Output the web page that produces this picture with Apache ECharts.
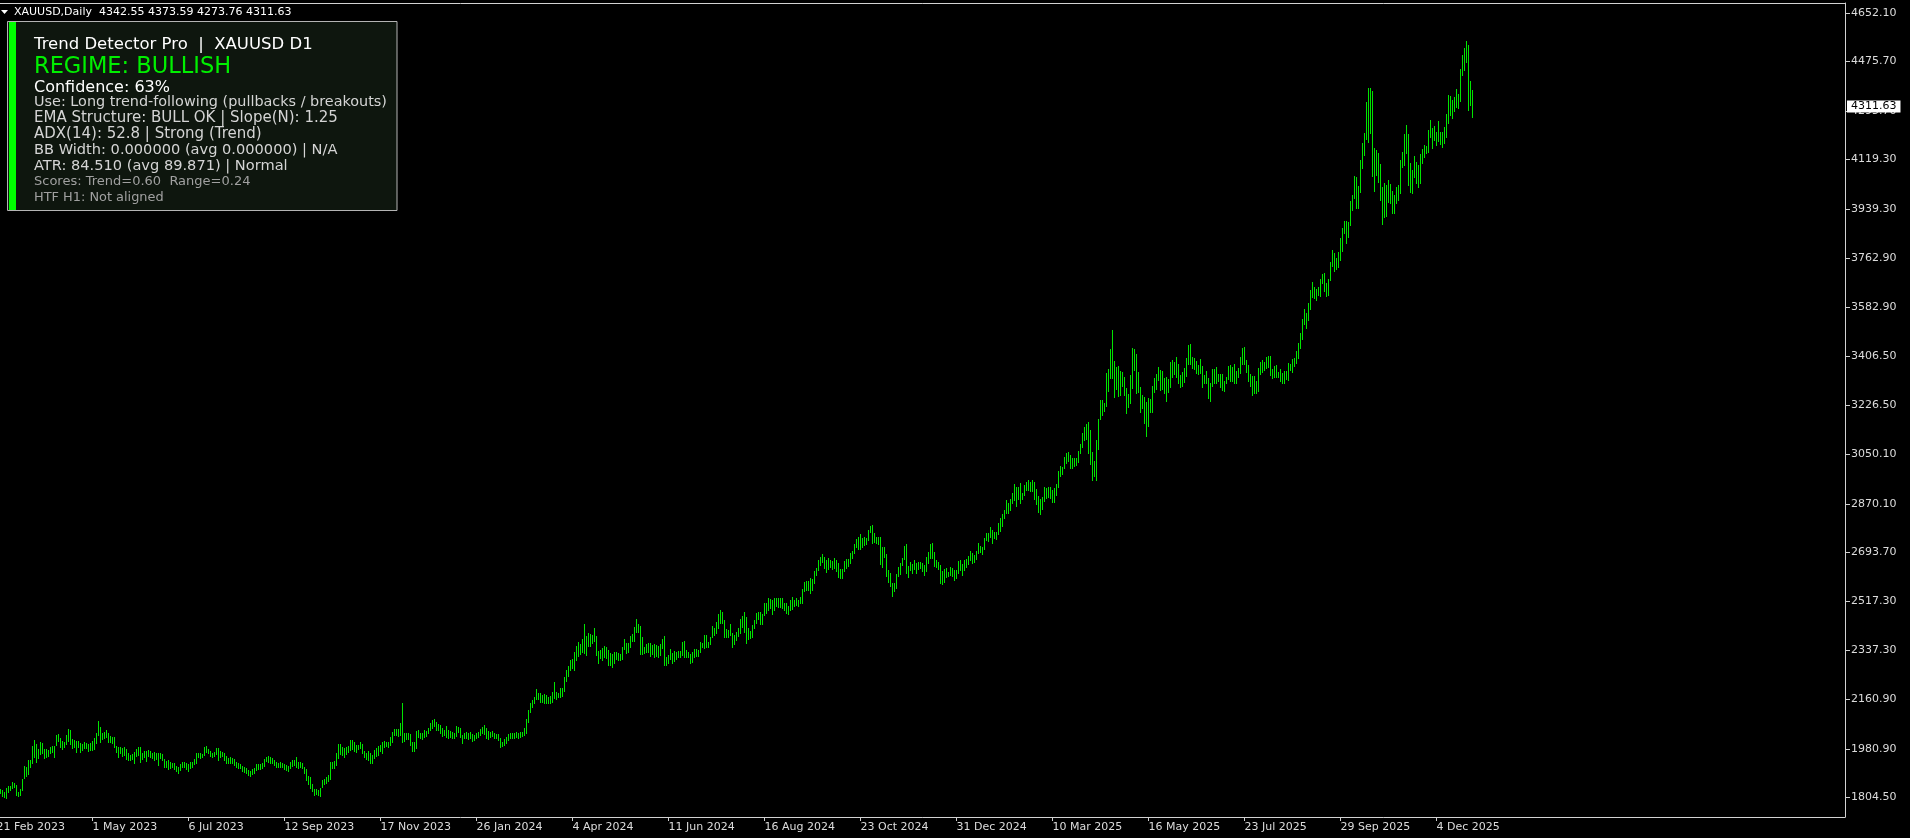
<!DOCTYPE html>
<html>
<head>
<meta charset="utf-8">
<script src="https://cdn.jsdelivr.net/npm/echarts@6/dist/echarts.min.js"></script>
<style>
html,body{margin:0;padding:0;background:#000;overflow:hidden}
#chart{width:1910px;height:838px}
</style>
</head>
<body>
<div id="chart"></div>
<script>
// ---------------- data ----------------
const symbolName = 'XAUUSD,Daily';
const lastBar = [4342.55, 4373.59, 4273.76, 4311.63]; // open high low close

// daily lows, one per bar, starting 21 Feb 2023
const lows = [
1830,1823,1819,1810,1807,1804,1825,1830,1837,1843,
1813,1809,1812,1831,1874,1884,1889,1915,1931,1952,
1934,1946,1962,1967,1946,1952,1955,1964,1970,1950,
1995,2010,1986,1982,1989,1999,2010,1998,1983,1989,
1970,1989,1970,1976,1983,1983,1974,1977,1975,1980,
2003,2031,2007,2015,2019,2022,2007,2007,2003,1986,
1970,1952,1964,1955,1958,1943,1940,1940,1943,1931,
1955,1958,1934,1943,1950,1938,1955,1952,1946,1940,
1943,1922,1946,1940,1916,1916,1906,1910,1914,1906,
1901,1894,1904,1916,1914,1907,1901,1910,1916,1926,
1931,1950,1946,1950,1958,1971,1964,1955,1952,1955,
1962,1940,1952,1955,1940,1931,1928,1931,1931,1922,
1914,1910,1910,1901,1898,1892,1886,1882,1889,1892,
1904,1906,1906,1910,1918,1938,1934,1931,1931,1922,
1916,1916,1916,1914,1906,1904,1901,1910,1918,1922,
1916,1910,1915,1910,1894,1868,1852,1838,1826,1815,
1816,1813,1810,1843,1853,1858,1864,1870,1910,1912,
1922,1946,1962,1958,1952,1962,1971,1978,1979,1974,
1971,1979,1983,1966,1952,1943,1940,1931,1931,1949,
1955,1958,1974,1966,1986,1990,1988,1995,2007,2031,
2031,2028,2031,2007,2010,2016,2015,1995,1974,1974,
1983,2025,2019,2016,2025,2027,2037,2049,2055,2064,
2049,2049,2040,2027,2031,2025,2019,2025,2019,2019,
2027,2043,2025,2003,2019,2019,2015,2019,2010,2013,
2019,2025,2031,2037,2034,2019,2016,2022,2027,2019,
2019,2013,1986,1991,1995,2001,2013,2019,2019,2019,
2025,2019,2025,2027,2031,2039,2079,2116,2134,2148,
2160,2160,2152,2152,2148,2146,2146,2148,2152,2164,
2161,2168,2170,2173,2190,2226,2244,2266,2273,2268,
2302,2318,2325,2333,2327,2321,2355,2354,2366,2373,
2321,2291,2309,2303,2315,2309,2285,2285,2279,2291,
2306,2303,2303,2306,2342,2330,2333,2352,2373,2373,
2406,2406,2325,2325,2327,2333,2333,2318,2325,2315,
2318,2315,2321,2346,2285,2285,2294,2306,2294,2301,
2306,2315,2315,2321,2315,2315,2313,2291,2297,2315,
2318,2318,2333,2352,2346,2349,2352,2361,2388,2394,
2402,2418,2439,2439,2388,2385,2388,2394,2352,2361,
2376,2390,2402,2424,2406,2364,2378,2382,2388,2418,
2439,2451,2434,2434,2467,2475,2485,2491,2470,2485,
2499,2497,2494,2491,2485,2473,2470,2485,2487,2499,
2503,2499,2511,2511,2555,2559,2557,2548,2557,2584,
2612,2630,2648,2660,2636,2624,2632,2642,2632,2636,
2627,2603,2602,2602,2626,2636,2644,2656,2672,2693,
2714,2706,2706,2714,2720,2724,2739,2769,2729,2733,
2727,2724,2652,2642,2678,2608,2587,2572,2535,2554,
2566,2608,2615,2648,2668,2618,2606,2630,2620,2632,
2620,2632,2636,2627,2612,2627,2656,2675,2675,2644,
2642,2632,2584,2579,2587,2606,2608,2612,2608,2594,
2602,2620,2630,2612,2630,2642,2652,2666,2656,2660,
2668,2690,2696,2688,2705,2739,2736,2751,2729,2745,
2741,2759,2773,2789,2817,2835,2835,2848,2872,2884,
2862,2886,2874,2886,2902,2920,2922,2918,2916,2888,
2870,2842,2832,2850,2882,2890,2893,2890,2878,2878,
2902,2930,2970,2978,2999,3019,3025,2999,3000,3008,
3012,3022,3053,3077,3100,3105,3054,3015,2956,2970,
2957,3069,3177,3192,3207,3225,3281,3328,3325,3259,
3285,3262,3265,3298,3265,3201,3220,3237,3289,3356,
3273,3277,3204,3217,3164,3116,3152,3204,3204,3277,
3285,3319,3283,3285,3273,3244,3277,3295,3331,3341,
3329,3307,3293,3298,3313,3334,3377,3377,3362,3359,
3344,3340,3344,3295,3307,3310,3253,3243,3298,3310,
3310,3317,3293,3283,3281,3310,3322,3317,3317,3307,
3307,3329,3344,3377,3377,3350,3316,3298,3265,3271,
3273,3281,3341,3350,3356,3362,3368,3337,3325,3331,
3329,3329,3317,3310,3310,3322,3319,3356,3350,3370,
3382,3400,3437,3469,3524,3509,3537,3577,3619,3617,
3610,3628,3625,3670,3642,3624,3628,3682,3734,3716,
3721,3729,3755,3789,3852,3818,3837,3882,3936,3979,
3942,3945,4003,4088,4136,4194,4184,4215,4060,4004,
4063,4039,3972,3886,3912,3914,3967,3961,3927,3927,
3963,3973,3997,4094,4100,4142,4027,4003,3997,4055,
4036,4021,4036,4106,4128,4145,4148,4203,4160,4190,
4172,4188,4176,4166,4178,4203,4253,4281,4269,4297,
4309,4305,4333,4426,4445,4475,4300,4317,4273.76
];

// daily highs, same bars
const highs = [
1847,1845,1834,1831,1825,1837,1846,1846,1862,1858,
1850,1825,1834,1870,1918,1914,1940,1940,1991,2013,
1998,1982,2007,2003,1979,1979,1977,1989,1991,1991,
2031,2035,2019,2010,2007,2031,2052,2049,2015,2013,
2010,2010,2003,1998,2007,2003,1998,2001,2008,2020,
2040,2082,2059,2037,2043,2049,2039,2027,2025,2022,
1991,1989,1986,1983,1986,1979,1964,1958,1962,1971,
1979,1986,1989,1967,1974,1974,1977,1974,1967,1971,
1964,1964,1967,1962,1943,1938,1940,1934,1931,1928,
1918,1916,1926,1934,1934,1931,1926,1934,1934,1943,
1964,1964,1964,1962,1989,1991,1982,1974,1967,1971,
1983,1983,1974,1971,1967,1955,1946,1950,1946,1943,
1934,1928,1926,1918,1916,1910,1904,1901,1906,1910,
1926,1926,1926,1931,1943,1952,1955,1952,1946,1940,
1934,1931,1934,1931,1926,1922,1918,1934,1940,1940,
1952,1934,1934,1931,1916,1906,1882,1880,1853,1834,
1834,1831,1840,1868,1870,1880,1886,1934,1934,1937,
1967,1998,1997,1986,1983,1986,1992,2013,2013,2004,
1993,1996,2004,1998,1974,1967,1974,1967,1958,1976,
1983,1990,1993,2007,2010,2007,2007,2025,2043,2051,
2052,2051,2076,2146,2040,2040,2040,2035,2007,2007,
2047,2049,2040,2037,2049,2047,2055,2073,2085,2088,
2079,2071,2067,2055,2049,2064,2049,2047,2043,2040,
2064,2059,2055,2031,2037,2043,2040,2043,2034,2031,
2037,2043,2051,2061,2067,2055,2047,2043,2047,2040,
2034,2034,2019,2007,2015,2025,2034,2037,2037,2040,
2043,2040,2043,2043,2055,2088,2122,2146,2158,2170,
2197,2185,2182,2176,2179,2176,2170,2173,2188,2225,
2188,2185,2200,2202,2240,2268,2281,2305,2306,2332,
2354,2368,2362,2378,2434,2390,2400,2396,2394,2418,
2392,2337,2339,2348,2354,2349,2339,2330,2325,2333,
2331,2330,2325,2352,2378,2366,2364,2390,2397,2424,
2452,2434,2427,2388,2352,2361,2364,2364,2357,2361,
2357,2355,2361,2378,2390,2315,2321,2343,2330,2337,
2333,2337,2337,2370,2373,2339,2333,2325,2333,2342,
2342,2339,2370,2366,2394,2394,2370,2388,2427,2418,
2442,2470,2485,2479,2448,2414,2412,2434,2400,2394,
2406,2418,2452,2463,2478,2460,2418,2409,2430,2448,
2472,2478,2478,2470,2509,2511,2530,2523,2521,2530,
2527,2530,2529,2527,2511,2509,2499,2521,2533,2521,
2527,2521,2533,2560,2587,2591,2591,2600,2597,2627,
2636,2666,2676,2688,2676,2666,2672,2666,2664,2672,
2666,2654,2632,2632,2662,2668,2670,2690,2700,2724,
2741,2751,2759,2745,2751,2747,2775,2790,2793,2763,
2751,2751,2751,2712,2712,2688,2630,2620,2584,2581,
2615,2642,2654,2675,2717,2724,2644,2658,2652,2666,
2656,2660,2658,2654,2648,2678,2694,2724,2727,2694,
2666,2658,2648,2626,2634,2636,2624,2640,2638,2630,
2630,2662,2666,2652,2666,2668,2681,2699,2693,2684,
2699,2727,2718,2714,2747,2765,2763,2785,2775,2769,
2769,2799,2817,2833,2848,2884,2874,2886,2910,2942,
2930,2930,2944,2910,2938,2950,2956,2950,2956,2948,
2925,2900,2886,2896,2930,2928,2930,2930,2920,2926,
2942,2990,3007,3005,3039,3055,3058,3047,3035,3037,
3035,3062,3088,3128,3150,3160,3168,3138,3059,3027,
3100,3178,3247,3247,3235,3346,3359,3432,3501,3388,
3368,3371,3353,3347,3329,3292,3269,3337,3434,3431,
3414,3347,3293,3265,3256,3241,3253,3250,3298,3325,
3343,3365,3356,3352,3325,3329,3323,3383,3392,3383,
3402,3377,3337,3347,3362,3398,3446,3450,3402,3398,
3388,3374,3394,3370,3337,3352,3325,3307,3358,3358,
3365,3343,3343,3343,3316,3329,3370,3374,3365,3377,
3352,3362,3402,3434,3438,3392,3374,3343,3334,3334,
3316,3362,3383,3392,3386,3402,3406,3406,3359,3370,
3374,3350,3358,3346,3352,3352,3380,3377,3394,3400,
3425,3452,3489,3540,3576,3564,3598,3646,3675,3656,
3650,3656,3685,3703,3708,3673,3686,3748,3790,3779,
3761,3784,3835,3870,3896,3896,3892,3969,3991,4060,
4056,4023,4118,4180,4216,4327,4378,4378,4370,4160,
4154,4142,4104,4020,4033,4027,4045,4031,4005,3991,
4021,4027,4118,4148,4212,4245,4212,4106,4082,4132,
4112,4100,4140,4157,4172,4169,4227,4263,4233,4241,
4221,4259,4221,4221,4239,4285,4354,4350,4336,4348,
4374,4357,4447,4499,4526,4550,4535,4405,4373.59
];

// time axis: bar index of each date label, and the labels
const dateTicks = [0,48,96,144,192,240,288,336,384,432,480,528,576,624,672,720];
const dateLabels = ['21 Feb 2023','1 May 2023','6 Jul 2023','12 Sep 2023','17 Nov 2023',
  '26 Jan 2024','4 Apr 2024','11 Jun 2024','16 Aug 2024','23 Oct 2024','31 Dec 2024',
  '10 Mar 2025','16 May 2025','23 Jul 2025','29 Sep 2025','4 Dec 2025'];

// price axis labels
const priceTicks = [1804.50,1980.90,2160.90,2337.30,2517.30,2693.70,2870.10,3050.10,
  3226.50,3406.50,3582.90,3762.90,3939.30,4119.30,4295.70,4475.70,4652.10];

// info panel text
const panelTitle = 'Trend Detector Pro  |  XAUUSD D1';
const panelRegime = 'REGIME: BULLISH';
const panelConfidence = 'Confidence: 63%';
const panelLines = [
  'Use: Long trend-following (pullbacks / breakouts)',
  'EMA Structure: BULL OK | Slope(N): 1.25',
  'ADX(14): 52.8 | Strong (Trend)',
  'BB Width: 0.000000 (avg 0.000000) | N/A',
  'ATR: 84.510 (avg 89.871) | Normal'
];
const panelDimLines = [
  'Scores: Trend=0.60  Range=0.24',
  'HTF H1: Not aligned'
];

// ---------------- chart ----------------
const FONT = '"DejaVu Sans", sans-serif';
const AXC = '#d2d2d2';
const BAR = '#00e400';
const XMIN = 0, XMAX = 924.25;

const barData = lows.map((l, i) => [i, l, highs[i]]);

function renderBar(params, api) {
  const i = api.value(0);
  const top = api.coord([i, api.value(2)]);
  const bot = api.coord([i, api.value(1)]);
  const x = Math.floor(top[0]);
  const y0 = Math.round(top[1]);
  const y1 = Math.round(bot[1]);
  return {
    type: 'rect',
    shape: { x: x, y: y0, width: 1, height: Math.max(1, y1 - y0 + 1) },
    style: { fill: BAR }
  };
}

function txt(x, y, text, font, fill) {
  return {
    type: 'text', x: x, y: y, silent: true, z: 10,
    style: { text: text, font: font, fill: fill,
      align: 'left', verticalAlign: 'middle',
      textAlign: 'left', textVerticalAlign: 'middle' }
  };
}

const chart = echarts.init(document.getElementById('chart'), null, { renderer: 'canvas' });

const lineSizes = [14.4, 15.0, 15.0, 14.6, 14.6];
const dimSizes = [13, 12.9];

const graphics = [
  { type: 'polygon', silent: true, shape: { points: [[1, 10], [8, 10], [4.5, 14]] }, style: { fill: '#ffffff' } },
  txt(14, 12.5, symbolName + '  ' + lastBar.map(v => v.toFixed(2)).join(' '), '11px ' + FONT, '#ffffff'),
  { type: 'rect', silent: true, z: 9, shape: { x: 7.5, y: 21.5, width: 389.5, height: 189 },
    style: { fill: '#0e160e', stroke: '#b4b4b4', lineWidth: 1 } },
  { type: 'rect', silent: true, z: 10, shape: { x: 9, y: 22, width: 7, height: 188 }, style: { fill: '#00ff00' } },
  txt(34, 45.2, panelTitle, '16.5px ' + FONT, '#ffffff'),
  txt(34, 67.5, panelRegime, '22.5px ' + FONT, '#00f000'),
  txt(34, 87.8, panelConfidence, '16px ' + FONT, '#ffffff')
];
panelLines.forEach((t, k) => graphics.push(txt(34, 102 + k * 16, t, lineSizes[k] + 'px ' + FONT, '#d4d4d4')));
panelDimLines.forEach((t, k) => graphics.push(txt(34, 181.5 + k * 15.7, t, dimSizes[k] + 'px ' + FONT, '#a0a0a0')));

chart.setOption({
  backgroundColor: '#000000',
  animation: false,
  grid: { left: -3.5, right: 65, top: 3, bottom: 21, show: false,
          containLabel: false, outerBoundsMode: 'none' },
  xAxis: [{
    type: 'value', min: XMIN, max: XMAX,
    axisLine: { show: true, onZero: false, lineStyle: { color: AXC } },
    axisTick: { show: true, customValues: dateTicks, length: 4, lineStyle: { color: AXC } },
    axisLabel: {
      customValues: dateTicks,
      formatter: v => dateLabels[dateTicks.indexOf(Math.round(v))] || '',
      align: 'left', margin: 5,
      color: '#dcdcdc', fontFamily: FONT, fontSize: 11
    },
    splitLine: { show: false }
  }, {
    type: 'value', position: 'top', min: XMIN, max: XMAX,
    axisLine: { show: true, onZero: false, lineStyle: { color: AXC } },
    axisTick: { show: false }, axisLabel: { show: false }, splitLine: { show: false }
  }],
  yAxis: {
    type: 'value', position: 'right', min: 1733.4, max: 4687.7,
    axisLine: { show: true, onZero: false, lineStyle: { color: AXC } },
    axisTick: { show: true, inside: false, customValues: priceTicks, length: 5, lineStyle: { color: AXC } },
    axisLabel: {
      customValues: priceTicks,
      formatter: v => Number(v).toFixed(2),
      margin: 6, color: '#dcdcdc', fontFamily: FONT, fontSize: 11
    },
    splitLine: { show: false }
  },
  series: [{
    type: 'custom',
    renderItem: renderBar,
    data: barData,
    clip: false,
    encode: { x: 0, y: [1, 2] },
    markLine: {
      silent: true, symbol: ['none', 'none'],
      lineStyle: { color: 'rgba(0,0,0,0)', width: 0 },
      label: {
        position: 'end', distance: 2,
        formatter: lastBar[3].toFixed(2),
        color: '#000000', backgroundColor: '#ffffff',
        padding: [1, 4, 0, 4], fontFamily: FONT, fontSize: 11
      },
      data: [{ yAxis: lastBar[3] }]
    }
  }],
  graphic: graphics
});
</script>
</body>
</html>
